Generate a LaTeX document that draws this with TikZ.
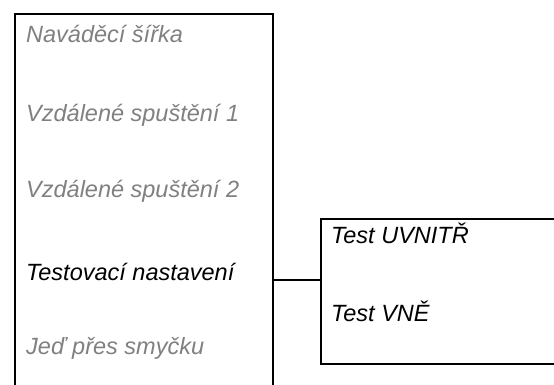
\documentclass[tikz,border=0pt]{standalone}
\usepackage{fontspec}
\setmainfont{Liberation Sans}
\definecolor{dimgrey}{RGB}{128,128,128}
\begin{document}
\begin{tikzpicture}[x=1pt,y=1pt,
  box/.style={draw, line width=2pt, rectangle, inner sep=0pt, anchor=north west},
  item/.style={anchor=base west, inner sep=0pt, font=\fontsize{23.5}{28}\selectfont\itshape},
  dim/.style={text=dimgrey},
  link/.style={draw, line width=1.5pt},
]
\useasboundingbox (0,0) rectangle (554,385);
\clip (0,0) rectangle (554,385);
\node[box, minimum width=258.5pt, minimum height=420pt] (lb) at (13.5,372) {};
\node[box, minimum width=260pt, minimum height=145pt] (rb) at (320,167) {};
\node[item, dim] (i1) at (26,342.3) {Naváděcí šířka};
\node[item, dim] (i2) at (26,263.3) {Vzdálené spuštění 1};
\node[item, dim] (i3) at (26,187.3) {Vzdálené spuštění 2};
\node[item] (i4) at (26,104.3) {Testovací nastavení};
\node[item, dim] (i5) at (26,30) {Jeď přes smyčku};
\node[item] (j1) at (331,141.7) {Test UVNITŘ};
\node[item] (j2) at (331,63.3) {Test VNĚ};
\coordinate (c) at (0,105);
\draw[link] (lb.east |- c) -- (rb.west |- c);
\end{tikzpicture}
\end{document}
